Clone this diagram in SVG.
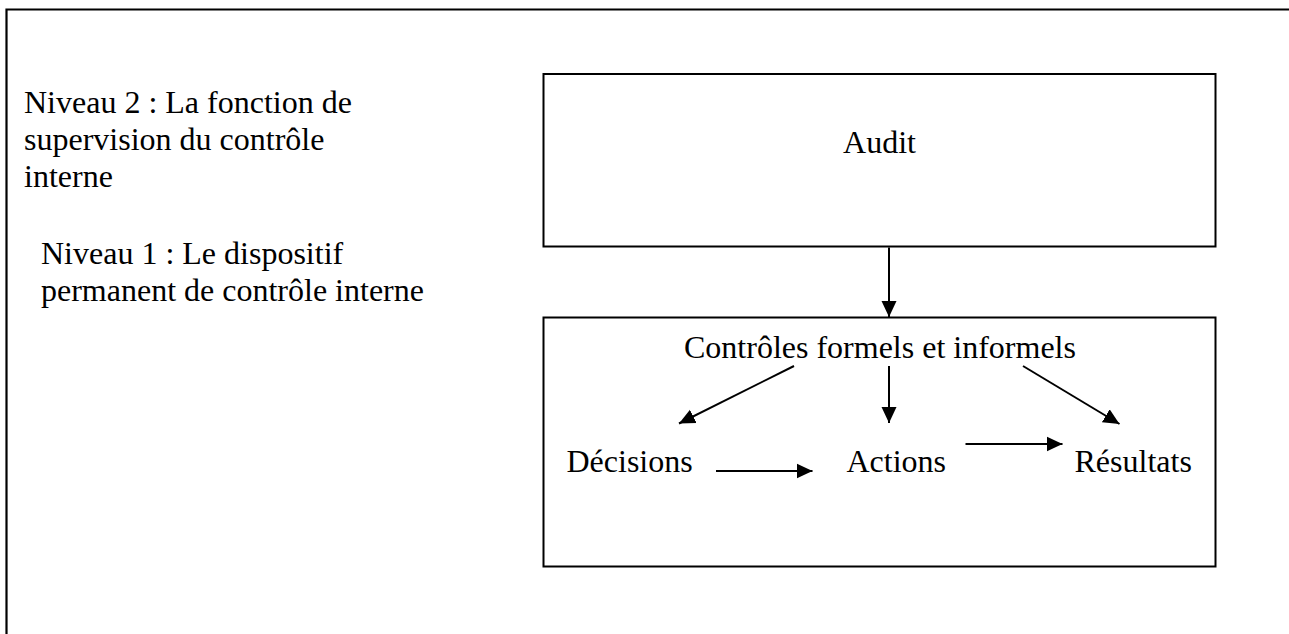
<svg xmlns="http://www.w3.org/2000/svg" width="1289" height="634" viewBox="0 0 1289 634">
<style>
  .t { font-family: "Liberation Serif", "Times New Roman", serif; font-size: 32px; fill: #000; }
  .box { fill: #fff; stroke: #000; stroke-width: 2; }
  .c { stroke: #000; stroke-width: 2; fill: none; marker-end: url(#ah); }
</style>
<defs>
  <marker id="ah" markerUnits="userSpaceOnUse" markerWidth="16" markerHeight="16" refX="16" refY="8" orient="auto">
    <path d="M0,0.5 L16,8 L0,15.5 z" fill="#000"/>
  </marker>
</defs>
<rect width="1289" height="634" fill="#fff"/>
<path id="frame" d="M6.5,634 V9.5 H1289" fill="none" stroke="#000" stroke-width="2.2"/>
<g id="niveau2-label">
  <text class="t" x="24" y="113">Niveau 2 : La fonction de</text>
  <text class="t" x="24" y="150">supervision du contrôle</text>
  <text class="t" x="24" y="187">interne</text>
</g>
<g id="niveau1-label">
  <text class="t" x="41" y="264">Niveau 1 : Le dispositif</text>
  <text class="t" x="41" y="301">permanent de contrôle interne</text>
</g>
<g id="audit">
  <rect class="box" x="543.5" y="74" width="672" height="172.5"/>
  <text class="t" x="879.5" y="152.5" text-anchor="middle">Audit</text>
</g>
<g id="dispositif">
  <rect class="box" x="543.5" y="317.5" width="672" height="249"/>
</g>
<g id="controles">
  <text class="t" x="684" y="358">Contrôles formels et informels</text>
</g>
<g id="decisions">
  <text class="t" x="566.5" y="472">Décisions</text>
</g>
<g id="actions">
  <text class="t" x="846.5" y="472">Actions</text>
</g>
<g id="resultats">
  <text class="t" x="1074.5" y="472">Résultats</text>
</g>
<g id="connectors">
  <line class="c" x1="889" y1="247.5" x2="889" y2="317"/>
  <line class="c" x1="794" y1="366" x2="679" y2="423.5"/>
  <line class="c" x1="889" y1="366" x2="889" y2="423"/>
  <line class="c" x1="1023" y1="366" x2="1119.5" y2="424"/>
  <line class="c" x1="716" y1="471" x2="812.5" y2="471"/>
  <line class="c" x1="965.5" y1="444" x2="1062.5" y2="444"/>
</g>
</svg>
